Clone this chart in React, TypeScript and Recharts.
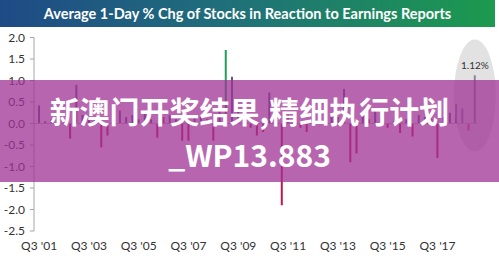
import React from "react";
import { BarChart, Bar, XAxis, YAxis, Cell, ReferenceLine, ReferenceDot } from "recharts";

const quarters = [
  "Q3 '01", "Q4 '01",
  "Q1 '02", "Q2 '02", "Q3 '02", "Q4 '02",
  "Q1 '03", "Q2 '03", "Q3 '03", "Q4 '03",
  "Q1 '04", "Q2 '04", "Q3 '04", "Q4 '04",
  "Q1 '05", "Q2 '05", "Q3 '05", "Q4 '05",
  "Q1 '06", "Q2 '06", "Q3 '06", "Q4 '06",
  "Q1 '07", "Q2 '07", "Q3 '07", "Q4 '07",
  "Q1 '08", "Q2 '08", "Q3 '08", "Q4 '08",
  "Q1 '09", "Q2 '09", "Q3 '09", "Q4 '09",
  "Q1 '10", "Q2 '10", "Q3 '10", "Q4 '10",
  "Q1 '11", "Q2 '11", "Q3 '11", "Q4 '11",
  "Q1 '12", "Q2 '12", "Q3 '12", "Q4 '12",
  "Q1 '13", "Q2 '13", "Q3 '13", "Q4 '13",
  "Q1 '14", "Q2 '14", "Q3 '14", "Q4 '14",
  "Q1 '15", "Q2 '15", "Q3 '15", "Q4 '15",
  "Q1 '16", "Q2 '16", "Q3 '16", "Q4 '16",
  "Q1 '17", "Q2 '17", "Q3 '17", "Q4 '17",
  "Q1 '18", "Q2 '18", "Q3 '18", "Q4 '18",
  "Q1 '19",
];

const avgChange = [
  0.42, 0.05, 0.1, 0.15, 0.08, -0.35, 0.9, 0.2, 0.15, 0.1,
  -0.55, -0.28, 0.1, 0.3, 0.15, 0.2, 0.1, 0.25, 0.1, -0.33,
  0.15, 0.2, 0.1, -0.4, -0.4, 0.2, 0.15, 0.1, -0.4, 0.3,
  1.71, 1.09, 0.3, 0.2, -0.1, -0.28, -0.2, 0.72, 0.3, -1.9,
  0.2, 0.15, -0.1, -0.2, 0.3, 0.2, 0.1, 0.25, 0.15, 0.8,
  -0.9, -0.7, 0.2, 0.1, 0.3, 0.15, -0.1, 0.05, -0.22, 0.1,
  -0.3, 0.2, 0.15, 0.1, -0.8, 0.15, 0.25, 0.46, 0.35, -0.16,
  1.12,
];

const yTicks = [-2.5, -2.0, -1.5, -1.0, -0.5, 0.0, 0.5, 1.0, 1.5, 2.0];

const titleText = "Average 1-Day % Chg of Stocks in Reaction to Earnings Reports";
const overlayLine1 = "新澳门开奖结果,精细执行计划";
const overlayLine2 = "_WP13.883";

const data = quarters.map((q, i) => ({ quarter: q, value: avgChange[i] }));
const maxValue = Math.max(...avgChange);
const lastIdx = avgChange.length - 1;

const POS = "#5c5a7a";
const NEG = "#c4144c";
const MAXC = "#1fa05a";

export default function App() {
  return (
    <div style={{ position: "absolute", left: 0, top: 0, width: 499, height: 263, background: "#fff", overflow: "hidden" }}>
      <BarChart
        width={499}
        height={263}
        data={data}
        margin={{ top: 37.5, right: 21, bottom: 0, left: 0 }}
        barCategoryGap={0}
      >
        <XAxis
          dataKey="quarter"
          interval={7}
          axisLine={false}
          tickLine={false}
          tickSize={0}
          tickMargin={10}
          height={32}
          padding={{ left: 2, right: 0 }}
          tick={{ fill: "#333", fontSize: 12, fontFamily: "Lato" }}
        />
        <YAxis
          domain={[-2.5, 2]}
          ticks={yTicks}
          width={34}
          tickFormatter={(v: number) => v.toFixed(1)}
          axisLine={{ stroke: "#a6a6a6" }}
          tickLine={{ stroke: "#a6a6a6" }}
          tickSize={4}
          tickMargin={5}
          tick={{ fill: "#333", fontSize: 12, fontFamily: "Lato" }}
          allowDataOverflow
        />
        <ReferenceDot
          x={quarters[lastIdx]}
          y={0.65}
          r={0}
          ifOverflow="visible"
          shape={(p: any) => (
            <ellipse cx={p.cx} cy={p.cy} rx={21} ry={56} fill="rgba(190,190,190,0.45)" />
          )}
        />
        <ReferenceLine y={0} stroke="#bfbfbf" strokeWidth={1} />
        <Bar dataKey="value" barSize={2} isAnimationActive={false}>
          {data.map((d, i) => (
            <Cell key={i} fill={d.value === maxValue ? MAXC : d.value >= 0 ? POS : NEG} />
          ))}
        </Bar>
        <ReferenceDot
          x={quarters[lastIdx]}
          y={avgChange[lastIdx]}
          r={0}
          ifOverflow="visible"
          label={{ value: `${avgChange[lastIdx].toFixed(2)}%`, position: "top", offset: 6, fill: "#333", fontSize: 10, fontFamily: "Lato" }}
        />
      </BarChart>

      <div
        style={{
          position: "absolute",
          left: 0,
          top: 0,
          width: 495,
          height: 27,
          background: "linear-gradient(to right, #1f4a86 0%, #1f6f7a 45%, #1c9a4e 100%)",
          color: "#fff",
          fontFamily: "Lato",
          fontWeight: 700,
          fontSize: 14.5,
          lineHeight: "27px",
          textAlign: "center",
          whiteSpace: "nowrap",
        }}
      >
        {titleText}
      </div>

      <div
        style={{
          position: "absolute",
          left: 0,
          top: 80,
          width: 499,
          height: 102,
          background: "rgba(160,50,150,0.75)",
        }}
      />
      <div
        style={{
          position: "absolute",
          left: 0,
          top: 92,
          width: 499,
          textAlign: "center",
          color: "#fff",
          fontFamily: "'Noto Sans CJK SC'",
          fontWeight: 700,
          fontSize: 30,
          lineHeight: "36px",
          whiteSpace: "nowrap",
        }}
      >
        {overlayLine1}
      </div>
      <div
        style={{
          position: "absolute",
          left: 0,
          top: 136,
          width: 499,
          textAlign: "center",
          color: "#fff",
          fontFamily: "'Noto Sans CJK SC'",
          fontWeight: 700,
          fontSize: 30,
          lineHeight: "36px",
          whiteSpace: "nowrap",
        }}
      >
        {overlayLine2}
      </div>
    </div>
  );
}
